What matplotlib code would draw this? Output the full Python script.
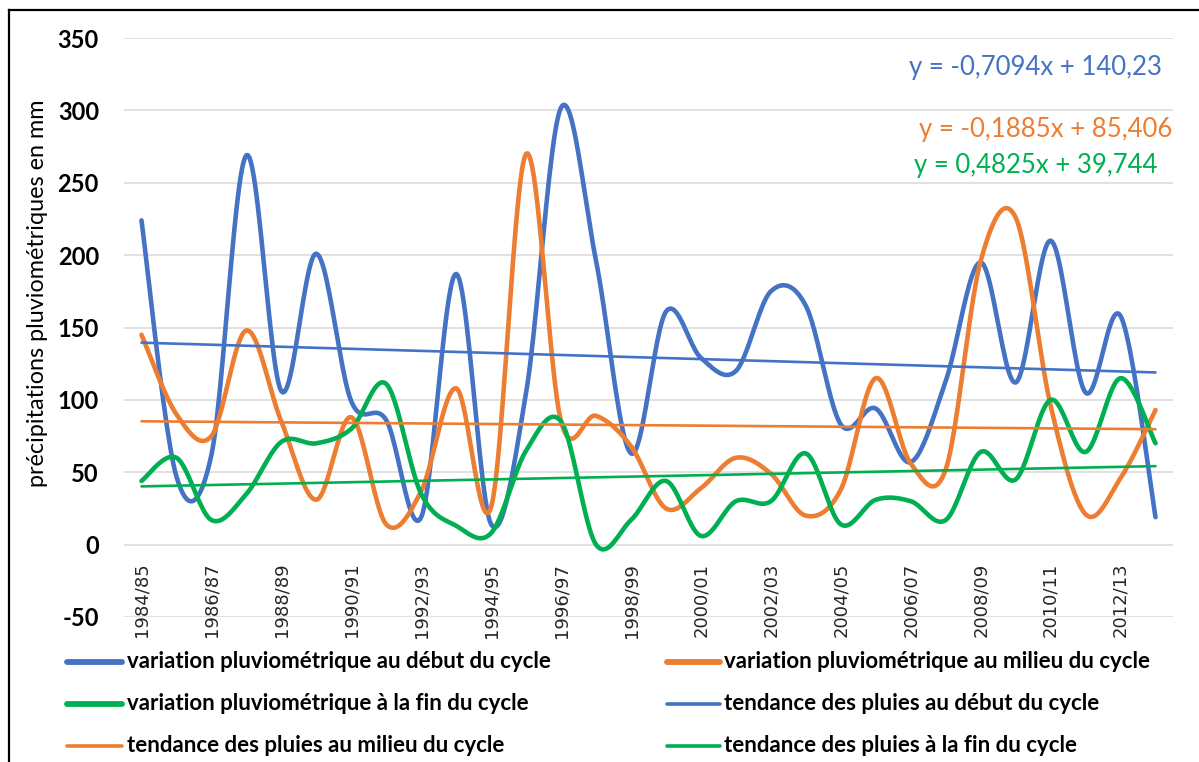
import numpy as np
import matplotlib
matplotlib.use("Agg")
import matplotlib.pyplot as plt
from matplotlib.lines import Line2D

plt.rcParams["axes.unicode_minus"] = False

# ---------------- data ----------------
years = ["1984/85", "1985/86", "1986/87", "1987/88", "1988/89", "1989/90", "1990/91",
         "1991/92", "1992/93", "1993/94", "1994/95", "1995/96", "1996/97", "1997/98",
         "1998/99", "1999/00", "2000/01", "2001/02", "2002/03", "2003/04", "2004/05",
         "2005/06", "2006/07", "2007/08", "2008/09", "2009/10", "2010/11", "2011/12",
         "2012/13", "2013/14"]

debut = [224, 47, 62, 269, 106, 201, 99, 86, 19, 187, 14, 105, 302, 196, 63, 161,
         129, 120, 175, 165, 83, 94, 57, 113, 195, 112, 210, 105, 158, 19]
milieu = [145, 90, 75, 148, 85, 31, 88, 14, 37, 108, 26, 270, 85, 89, 68, 25,
          39, 60, 49, 20, 38, 115, 56, 52, 196, 226, 96, 21, 46, 93]
fin = [44, 60, 17, 35, 71, 70, 80, 111, 35, 13, 8, 65, 85, 0, 17, 44,
       6, 30, 30, 63, 14, 31, 30, 17, 64, 45, 100, 64, 115, 70]

trend_slopes = [-0.7094, -0.1885, 0.4825]
trend_intercepts = [140.23, 85.406, 39.744]
trend_texts = ["y = -0,7094x + 140,23", "y = -0,1885x + 85,406", "y = 0,4825x + 39,744"]

series_labels = ["variation pluviométrique au début du cycle",
                 "variation pluviométrique au milieu du cycle",
                 "variation pluviométrique à la fin du cycle"]
trend_labels = ["tendance des pluies au début du cycle",
                "tendance des pluies au milieu du cycle",
                "tendance des pluies à la fin du cycle"]

colors = ["#4472C4", "#ED7D31", "#00B050"]
ylabel = "précipitations pluviométriques en mm"


def smooth(xs, ys, n=24):
    """Catmull-Rom / Bezier smoothing as in spreadsheet 'smoothed line'."""
    xs = np.asarray(xs, float)
    ys = np.asarray(ys, float)
    px = np.concatenate([[xs[0]], xs, [xs[-1]]])
    py = np.concatenate([[ys[0]], ys, [ys[-1]]])
    outx, outy = [], []
    t = np.linspace(0, 1, n, endpoint=False)
    for i in range(1, len(px) - 2):
        p0 = np.array([px[i], py[i]])
        p3 = np.array([px[i + 1], py[i + 1]])
        c1 = p0 + (np.array([px[i + 1], py[i + 1]]) - np.array([px[i - 1], py[i - 1]])) / 6.0
        c2 = p3 - (np.array([px[i + 2], py[i + 2]]) - np.array([px[i], py[i]])) / 6.0
        b = ((1 - t) ** 3)[:, None] * p0 + (3 * (1 - t) ** 2 * t)[:, None] * c1 \
            + (3 * (1 - t) * t ** 2)[:, None] * c2 + (t ** 3)[:, None] * p3
        outx.extend(b[:, 0])
        outy.extend(b[:, 1])
    outx.append(xs[-1])
    outy.append(ys[-1])
    return np.array(outx), np.array(outy)


W, H = 1199, 762
fig = plt.figure(figsize=(W / 100, H / 100), dpi=100)
ax_left, ax_right = 124 / W, 1173 / W
ax_top, ax_bot = 1 - 38 / H, 1 - 617 / H
ax = fig.add_axes([ax_left, ax_bot, ax_right - ax_left, ax_top - ax_bot])

x = np.arange(len(years))
for data, c in zip([debut, milieu, fin], colors):
    sx, sy = smooth(x, data)
    ax.plot(sx, sy, color=c, lw=3.3, solid_capstyle="round", zorder=3)

xt = np.arange(1, len(years) + 1)
for s, b, c in zip(trend_slopes, trend_intercepts, colors):
    ax.plot(x, s * xt + b, color=c, lw=1.9, solid_capstyle="round", zorder=4)

ax.set_xlim(-0.5, len(years) - 0.5)
ax.set_ylim(-50, 350)
ax.set_yticks(np.arange(-50, 351, 50))
ax.grid(axis="y", color="#D9D9D9", lw=1.1)
ax.set_axisbelow(True)
for sp in ax.spines.values():
    sp.set_visible(False)
ax.tick_params(axis="y", length=0, pad=18)
for lab in ax.get_yticklabels():
    lab.set_fontfamily("Lato")
    lab.set_fontweight("bold")
    lab.set_fontsize(17)
ax.set_xticks([])

# category labels placed at the zero line
for i in range(0, len(years), 2):
    ax.annotate(years[i], xy=(i, 0), xytext=(0, -13), textcoords="offset points",
                rotation=90, ha="center", va="top", fontsize=13,
                family="DejaVu Sans", color="#262626")

# trend equations
eq_pos = [(1162, 67), (1172, 130), (1157, 166)]
for (px_, py_), txt, c in zip(eq_pos, trend_texts, colors):
    fig.text(px_ / W, 1 - py_ / H, txt, color=c, fontsize=18.5, family="Lato",
             ha="right", va="center")

# y label
fig.text(38 / W, 1 - 293 / H, ylabel, rotation=90, ha="center", va="center",
         fontsize=16.8, family="Lato")

# legend (manual, two columns)
entries = [(series_labels[0], colors[0], 4.2), (series_labels[1], colors[1], 4.2),
           (series_labels[2], colors[2], 4.2), (trend_labels[0], colors[0], 2.6),
           (trend_labels[1], colors[1], 2.6), (trend_labels[2], colors[2], 2.6)]
rows_y = [662, 704, 746]
cols = [(67, 122, 127), (667, 720, 724)]
for k, (lab, c, lw) in enumerate(entries):
    r, col = divmod(k, 2)
    x0, x1, tx = cols[col]
    yy = 1 - rows_y[r] / H
    fig.add_artist(Line2D([x0 / W, x1 / W], [yy, yy], color=c, lw=lw,
                          solid_capstyle="round", transform=fig.transFigure))
    fig.text(tx / W, yy, lab, fontsize=16, family="Lato", fontweight="bold",
             ha="left", va="center", color="black")

# frame (left and top edges visible)
fig.add_artist(Line2D([9 / W, 9 / W], [0, 1 - 10 / H], color="black", lw=1.6,
                      transform=fig.transFigure))
fig.add_artist(Line2D([9 / W, 1], [1 - 10 / H, 1 - 10 / H], color="black", lw=1.6,
                      transform=fig.transFigure))

fig.savefig("out.png", dpi=100, facecolor="white")
